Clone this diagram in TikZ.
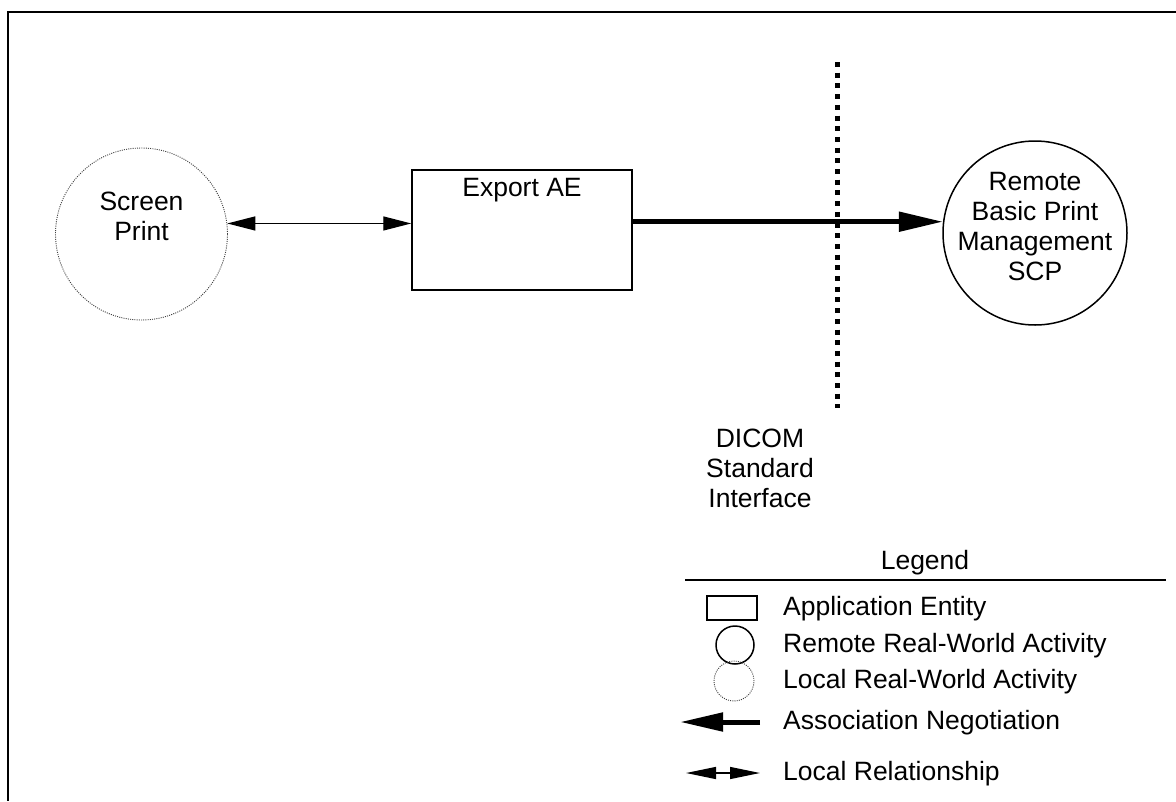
\documentclass[tikz,border=0pt]{standalone}
\usepackage{fontspec}
\setmainfont{Liberation Sans}
\usetikzlibrary{arrows.meta,shapes.geometric}
\begin{document}
\begin{tikzpicture}[x=1pt,y=-1pt,
  txt/.style={font=\fontsize{26.5}{30}\selectfont, align=center, inner sep=0pt},
  ltxt/.style={font=\fontsize{26.5}{30}\selectfont, anchor=west, inner sep=0pt},
  aebox/.style={draw, line width=1.5pt, inner sep=0pt},
  remote/.style={draw, circle, line width=1.5pt, inner sep=0pt},
  localact/.style={draw=black!75, circle, line width=0.9pt, dash pattern=on 1pt off 1.2pt, inner sep=0pt},
  assoc/.style={line width=5pt, -{Triangle[length=44pt,width=19pt]}},
  locrel/.style={line width=1.3pt, {Triangle[length=28pt,width=14pt]}-{Triangle[length=28pt,width=14pt]}},
  boundary/.style={line width=5pt, dash pattern=on 5pt off 5.7pt}
]
\useasboundingbox (0,0) rectangle (1176,801);
\fill[white] (0,0) rectangle (1176,801);
% border (top and left only)
\draw[line width=2pt] (1176,12) -- (8,12) -- (8,801);

% Screen Print (local real-world activity)
\node[localact, minimum size=172pt] (sp) at (141.5,234) {};
\node[txt] (spt) at (141.5,216) {Screen\\Print};

% Export AE
\node[aebox, minimum width=220pt, minimum height=120pt] (ae) at (522,230) {};
\node[txt] (aet) at (522,190) {Export AE};

% Remote
\node[remote, minimum size=184pt] (rm) at (1035,233) {};
\node[txt] (rmt) at (1035,227) {Remote\\Basic Print\\Management\\SCP};

% connectors
\draw[locrel] (sp.7.4) -- (ae.west |- sp.7.4);
\draw[assoc] (ae.east |- rm.173.8) -- (rm.173.8);

% DICOM boundary
\coordinate (bt) at (837,62);
\coordinate (bb) at (837,408);
\draw[boundary] (bt) -- (bb);
\node[txt] (dicom) at (760,468) {DICOM\\Standard\\Interface};

% Legend
\node[txt] (leg) at (925,563) {Legend};
\coordinate (l1) at (685,580);
\coordinate (l2) at (1166,580);
\draw[line width=1.5pt] (l1) -- (l2);

\node[aebox, minimum width=50pt, minimum height=24pt] (ik1) at (732,608) {};
\node[ltxt] (t1) at (783,609) {Application Entity};

\node[remote, minimum size=38pt] (ik2) at (735,645) {};
\node[ltxt] (t2) at (783,646) {Remote Real-World Activity};

\node[localact, minimum size=40pt] (ik3) at (734,681) {};
\node[ltxt] (t3) at (783,682) {Local Real-World Activity};

\coordinate (a1) at (760,722);
\coordinate (a2) at (680,722);
\draw[assoc, -{Triangle[length=43pt,width=18pt]}] (a1) -- (a2);
\node[ltxt] (t4) at (783,723) {Association Negotiation};

\coordinate (r1) at (686,773);
\coordinate (r2) at (760,773);
\draw[locrel, {Triangle[length=30pt,width=12pt]}-{Triangle[length=30pt,width=12pt]}] (r1) -- (r2);
\node[ltxt] (t5) at (783,774) {Local Relationship};
\end{tikzpicture}
\end{document}
